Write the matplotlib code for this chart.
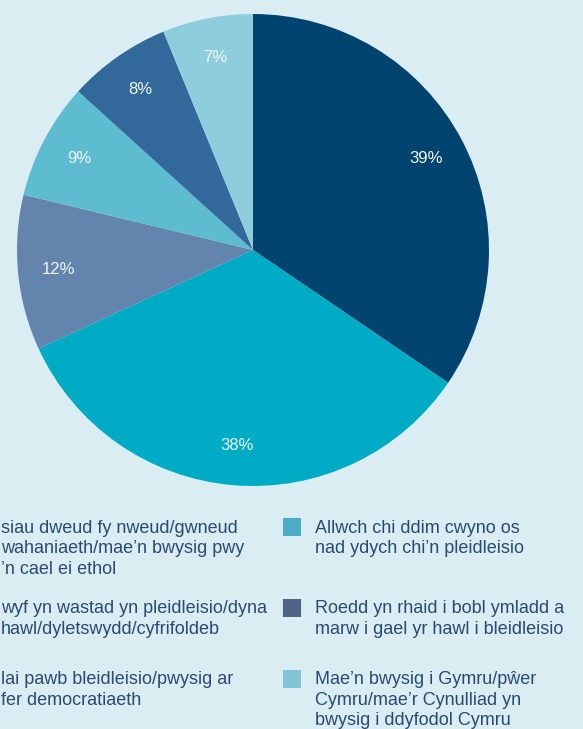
import numpy as np
import matplotlib
matplotlib.use('Agg')
import matplotlib.pyplot as plt
from matplotlib.patches import Rectangle

# slice values, clockwise from 12 o'clock
values = [39, 38, 12, 9, 8, 7]
slice_colors = ['#00446f', '#00abc5', '#6385ad', '#5ebcd1', '#33689a', '#8ecddc']

# legend: left column (its left part is cut off in the original, only what shows is kept)
# then right column
legend_labels = [
    ['siau dweud fy nweud/gwneud', 'wahaniaeth/mae\u2019n bwysig pwy', '\u2019n cael ei ethol'],
    ['wyf yn wastad yn pleidleisio/dyna', 'hawl/dyletswydd/cyfrifoldeb'],
    ['lai pawb bleidleisio/pwysig ar', 'fer democratiaeth'],
    ['Allwch chi ddim cwyno os', 'nad ydych chi\u2019n pleidleisio'],
    ['Roedd yn rhaid i bobl ymladd a', 'marw i gael yr hawl i bleidleisio'],
    ['Mae\u2019n bwysig i Gymru/p\u0175er', 'Cymru/mae\u2019r Cynulliad yn', 'bwysig i ddyfodol Cymru'],
]
legend_colors = ['#00446f', '#00abc5', '#6385ad', '#4bacc6', '#4e6585', '#82c4d6']

bg = '#d9edf3'
txt_col = '#2a4a70'
W, H = 583, 729

plt.rcParams['font.family'] = ['Liberation Sans', 'DejaVu Sans']

fig = plt.figure(figsize=(W / 100, H / 100), dpi=100, facecolor=bg)

# pie: centre (253, 250) px, radius 236 px
cx, cy, r = 253, 250, 236
ax = fig.add_axes([(cx - r) / W, 1 - (cy + r) / H, 2 * r / W, 2 * r / H])
ax.set_facecolor(bg)
total = float(sum(values))
wedges, _, autotexts = ax.pie(values, colors=slice_colors, startangle=90, counterclock=False,
                              radius=1, pctdistance=0.83,
                              autopct=lambda p: '%d%%' % round(p * total / 100.0),
                              wedgeprops=dict(linewidth=0))
for t in autotexts:
    t.set_color('#eef7fa')
    t.set_fontsize(12)
ax.set_xlim(-1, 1)
ax.set_ylim(-1, 1)
ax.set_aspect('equal')
ax.axis('off')

# legend, two columns of three, drawn by hand
col_text_x = [1, 315]
row_baseline = [532.7, 613.3, 684.3]
line_gap = 20.5
for i, (lines, col) in enumerate(zip(legend_labels, legend_colors)):
    c, rw = divmod(i, 3)
    tx = col_text_x[c]
    by = row_baseline[rw]
    if c == 1:
        fig.add_artist(Rectangle(((tx - 32) / W, 1 - (by + 3.5) / H), 18 / W, 18 / H,
                                 transform=fig.transFigure, facecolor=col, edgecolor='none'))
    for k, line in enumerate(lines):
        fig.text(tx / W, 1 - (by + k * line_gap) / H, line, ha='left', va='baseline',
                 fontsize=13, color=txt_col)

fig.savefig('out.png', dpi=100, facecolor=bg)
